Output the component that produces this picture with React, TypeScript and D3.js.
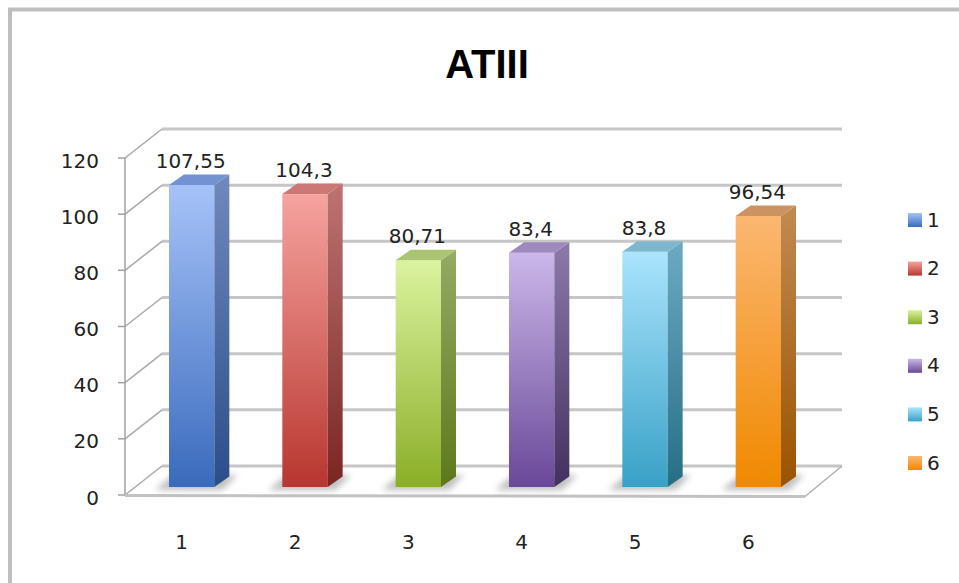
import React from "react";
import * as d3 from "d3";

// Series: ATIII measurement per sample
const categories = ["1", "2", "3", "4", "5", "6"];
const values = [107.55, 104.3, 80.71, 83.4, 83.8, 96.54];
const yTicks = [0, 20, 40, 60, 80, 100, 120];
const title = "ATIII";

// Per-bar colour ramps: [front top, front bottom, side top, side bottom, top face]
const palette = [
  ["#a6c3f8", "#3a6abd", "#7089bd", "#2b4d8a", "#7292d2"],
  ["#f6a39f", "#b8362f", "#bd7471", "#7a2522", "#cc7874"],
  ["#dbf39f", "#8bae27", "#93ab63", "#5d781b", "#abc472"],
  ["#cbb7e9", "#694898", "#8c7aab", "#44305e", "#9e89be"],
  ["#abe4fd", "#38a1c6", "#6caac2", "#256e86", "#7db7cf"],
  ["#fbb771", "#f08900", "#c28a52", "#9a5300", "#cb9262"],
];

const W = 959;
const H = 583;
const FONT = "'DejaVu Sans', Verdana, sans-serif";

export default function App() {
  // front plane of the 3D plot box
  const left = 125;
  const right = 805;
  const DX = 37; // depth offset of the back wall
  const DY = 29;

  const y = d3.scaleLinear().domain([0, 120]).range([495, 158]);
  const x = d3.scaleBand<string>().domain(categories).range([left, right]).padding(0);
  const bw = x.bandwidth();
  const barW = bw * 0.4;
  // bars stand part-way into the depth of the box
  const bdx = 10;
  const bdy = 8;
  const sdx = 15; // bar depth
  const sdy = 10.5;

  const fmt = (v: number) => String(v).replace(".", ",");

  return (
    <svg
      width={W}
      height={H}
      style={{ position: "absolute", left: 0, top: 0, background: "#fff" }}
      fontFamily={FONT}
    >
      <defs>
        {palette.map((c, i) => (
          <React.Fragment key={i}>
            <linearGradient id={`front${i}`} x1="0" y1="0" x2="0" y2="1">
              <stop offset="0" stopColor={c[0]} />
              <stop offset="1" stopColor={c[1]} />
            </linearGradient>
            <linearGradient id={`side${i}`} x1="0" y1="0" x2="0" y2="1">
              <stop offset="0" stopColor={c[2]} />
              <stop offset="1" stopColor={c[3]} />
            </linearGradient>
          </React.Fragment>
        ))}
        <filter id="soft" x="-50%" y="-50%" width="200%" height="200%">
          <feGaussianBlur stdDeviation="3" />
        </filter>
        <filter id="lineblur" x="-5%" y="-50%" width="110%" height="200%">
          <feGaussianBlur stdDeviation="0.6" />
        </filter>
      </defs>

      {/* outer frame */}
      <g filter="url(#lineblur)">
        <line x1={8} y1={9.5} x2={W} y2={9.5} stroke="#bfbfbf" strokeWidth={4} />
        <line x1={10} y1={8} x2={10} y2={H} stroke="#bfbfbf" strokeWidth={4} />
      </g>

      {/* title */}
      <text
        x={487}
        y={78}
        textAnchor="middle"
        fontFamily="'Liberation Sans', Arial, sans-serif"
        fontWeight="bold"
        fontSize={40}
        fill="#000"
      >
        {title}
      </text>

      {/* back-wall gridlines and side-wall diagonals */}
      <g filter="url(#lineblur)">
        {yTicks.map((t) => (
          <g key={t}>
            <line
              x1={left + DX}
              x2={right + DX}
              y1={y(t) - DY}
              y2={y(t) - DY}
              stroke="#c6c6c6"
              strokeWidth={3}
            />
            <line
              x1={left}
              y1={y(t)}
              x2={left + DX}
              y2={y(t) - DY}
              stroke="#a8a8a8"
              strokeWidth={1.5}
            />
            <line x1={left - 7} x2={left} y1={y(t)} y2={y(t)} stroke="#a0a0a0" strokeWidth={1.5} />
          </g>
        ))}
        <line x1={left} x2={left} y1={y(120)} y2={y(0)} stroke="#a0a0a0" strokeWidth={1.5} />
        {/* floor edges */}
        <line x1={left} x2={right} y1={y(0) + 0.5} y2={y(0) + 1.5} stroke="#c2c2c2" strokeWidth={3} />
        <line x1={right} y1={y(0) + 1.5} x2={right + DX} y2={y(0) - DY} stroke="#b0b0b0" strokeWidth={1.5} />
      </g>

      {/* y tick labels */}
      {yTicks.map((t) => (
        <text key={t} x={99} y={y(t) + 4} textAnchor="end" dominantBaseline="middle" fontSize={20} fill="#222">
          {t}
        </text>
      ))}

      {/* bars */}
      {values.map((v, i) => {
        const xl = (x(categories[i]) as number) + (bw - barW) / 2 + bdx;
        const xr = xl + barW;
        const yb = y(0) - bdy;
        const yt = y(v) - bdy;
        return (
          <g key={i}>
            <polygon
              points={`${xl - 14},${yb + 3} ${xl + 4},${yb - 12} ${xr + sdx + 8},${yb - 12} ${xr + 8},${yb + 3}`}
              fill="#8a8a8a"
              opacity={0.55}
              filter="url(#soft)"
            />
            <rect x={xl} y={yt} width={barW} height={yb - yt} fill={`url(#front${i})`} />
            <polygon
              points={`${xr},${yt} ${xr + sdx},${yt - sdy} ${xr + sdx},${yb - sdy} ${xr},${yb}`}
              fill={`url(#side${i})`}
            />
            <polygon
              points={`${xl},${yt} ${xl + sdx},${yt - sdy} ${xr + sdx},${yt - sdy} ${xr},${yt}`}
              fill={palette[i][4]}
            />
            <text x={(xl + xr) / 2 - 1} y={yt - 17} textAnchor="middle" fontSize={20} fill="#222">
              {fmt(v)}
            </text>
          </g>
        );
      })}

      {/* x tick labels */}
      {categories.map((c) => (
        <text
          key={c}
          x={(x(c) as number) + bw / 2}
          y={549}
          textAnchor="middle"
          fontSize={20}
          fill="#222"
        >
          {c}
        </text>
      ))}

      {/* legend */}
      {categories.map((c, i) => {
        const cy = 220 + i * 48.6;
        return (
          <g key={c}>
            <rect x={908} y={cy - 7} width={14} height={14} fill={`url(#front${i})`} />
            <text x={927} y={cy + 1} dominantBaseline="middle" fontSize={20} fill="#222">
              {c}
            </text>
          </g>
        );
      })}
    </svg>
  );
}
